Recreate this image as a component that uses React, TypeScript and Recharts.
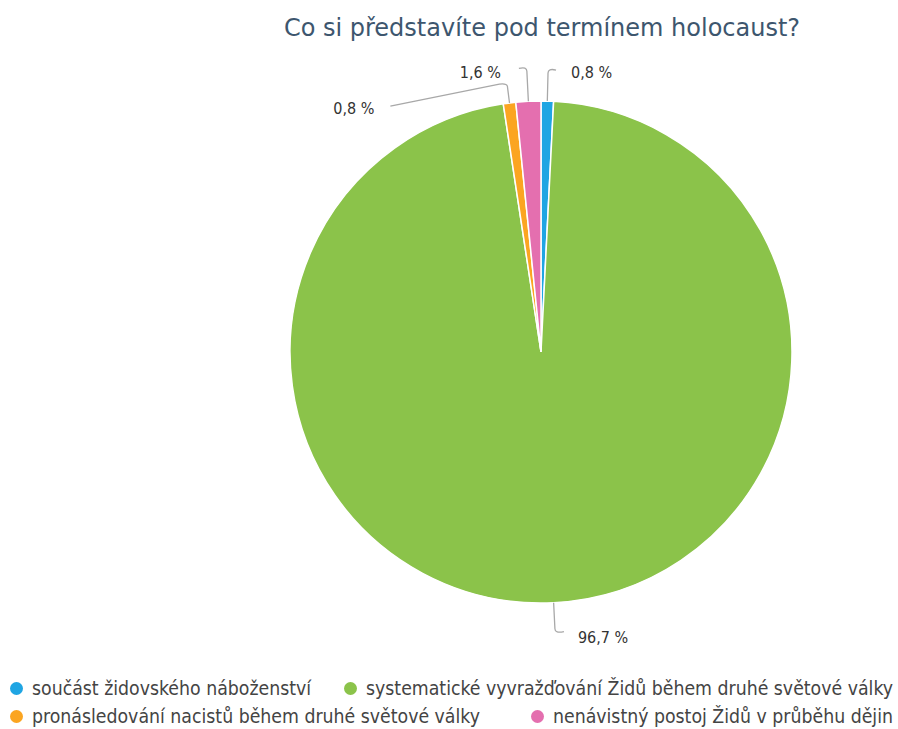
import React from 'react';
import { PieChart, Pie, Cell, Legend } from 'recharts';

const categories = [
  'součást židovského náboženství',
  'systematické vyvražďování Židů během druhé světové války',
  'pronásledování nacistů během druhé světové války',
  'nenávistný postoj Židů v průběhu dějin',
];
const values = [0.8, 96.7, 0.8, 1.6];
const valueLabels = ['0,8 %', '96,7 %', '0,8 %', '1,6 %'];
const colors = ['#1fa5e3', '#8bc34a', '#fba521', '#e46faf'];
const title = 'Co si představíte pod termínem holocaust?';

const data = categories.map((name, i) => ({ name, value: values[i], label: valueLabels[i] }));

const COND = "'DejaVu Sans Condensed', 'DejaVu Sans'";

// label geometry offsets (relative to slice outer edge point)
const labelCfg = [
  { rise: 28, hx: 8, hy: -3, tx: 23, ty: -1, anchor: 'start' },
  { rise: 26, hx: 9, hy: 3, tx: 23, ty: 9, anchor: 'start' },
  { rise: 17, hx: -117, hy: 20, tx: -133, ty: 22, anchor: 'end' },
  { rise: 30, hx: -8, hy: -3, tx: -26, ty: 1, anchor: 'end' },
];

const RAD = Math.PI / 180;

const renderLabel = (props: any) => {
  const { cx, cy, midAngle, outerRadius, index } = props;
  const c = labelCfg[index];
  const cos = Math.cos(-midAngle * RAD);
  const sin = Math.sin(-midAngle * RAD);
  const x0 = cx + outerRadius * cos;
  const y0 = cy + outerRadius * sin;
  const x1 = x0 + c.rise * cos;
  const y1 = y0 + c.rise * sin;
  const dirY = sin < 0 ? -1 : 1;
  const xe = x1 + c.hx;
  const ye = y1 + c.hy;
  const path = index === 2
    ? `M${x0},${y0} L${x1},${y1} Q${x1 - 1},${y1 - 3} ${x1 - 8},${y1 - 2} L${xe},${ye}`
    : `M${x0},${y0} L${x1},${y1} Q${x1},${y1 + dirY * 5} ${xe},${ye}`;
  return (
    <g>
      <path d={path} stroke="#a8a8a8" strokeWidth={1.3} fill="none" />
      <text
        x={x1 + c.tx}
        y={y1 + c.ty}
        textAnchor={c.anchor as any}
        dominantBaseline="central"
        fontFamily={COND}
        fontSize={16}
        fill="#333"
      >
        {data[index].label}
      </text>
    </g>
  );
};

const LegendContent = () => {
  const item = (i: number) => (
    <div key={i} style={{ display: 'flex', alignItems: 'center', whiteSpace: 'nowrap' }}>
      <span style={{ display: 'inline-block', width: 13, height: 13, borderRadius: 7, background: colors[i], marginRight: 9 }} />
      <span style={{ fontFamily: COND, fontSize: 19.3, color: '#444' }}>{categories[i]}</span>
    </div>
  );
  return (
    <div style={{ width: 883, marginLeft: 10 }}>
      <div style={{ display: 'flex', justifyContent: 'space-between', height: 28, alignItems: 'center' }}>
        {item(0)}
        {item(1)}
      </div>
      <div style={{ display: 'flex', justifyContent: 'space-between', height: 28, alignItems: 'center' }}>
        {item(2)}
        {item(3)}
      </div>
    </div>
  );
};

export default function App() {
  return (
    <div style={{ position: 'relative', width: 898, height: 729, background: '#fff' }}>
      <style>{`body{margin:0}`}</style>
      <div
        style={{
          position: 'absolute',
          top: 14,
          left: 0,
          width: 898,
          textAlign: 'center',
          paddingLeft: 186,
          boxSizing: 'border-box',
          fontFamily: 'DejaVu Sans',
          fontSize: 24,
          color: '#3d566e',
        }}
      >
        {title}
      </div>
      <PieChart width={898} height={729} margin={{ top: 0, right: 0, bottom: 0, left: 0 }}>
        <Pie
          data={data}
          dataKey="value"
          nameKey="name"
          cx={541}
          cy={352}
          outerRadius={251}
          startAngle={90}
          endAngle={-270}
          stroke="#fff"
          strokeWidth={1.5}
          label={renderLabel}
          labelLine={false}
          isAnimationActive={false}
        >
          {data.map((d, i) => (
            <Cell key={i} fill={colors[i]} />
          ))}
        </Pie>
        <Legend
          content={<LegendContent />}
          wrapperStyle={{ position: 'absolute', top: 674, left: 0, width: 898 }}
        />
      </PieChart>
    </div>
  );
}
